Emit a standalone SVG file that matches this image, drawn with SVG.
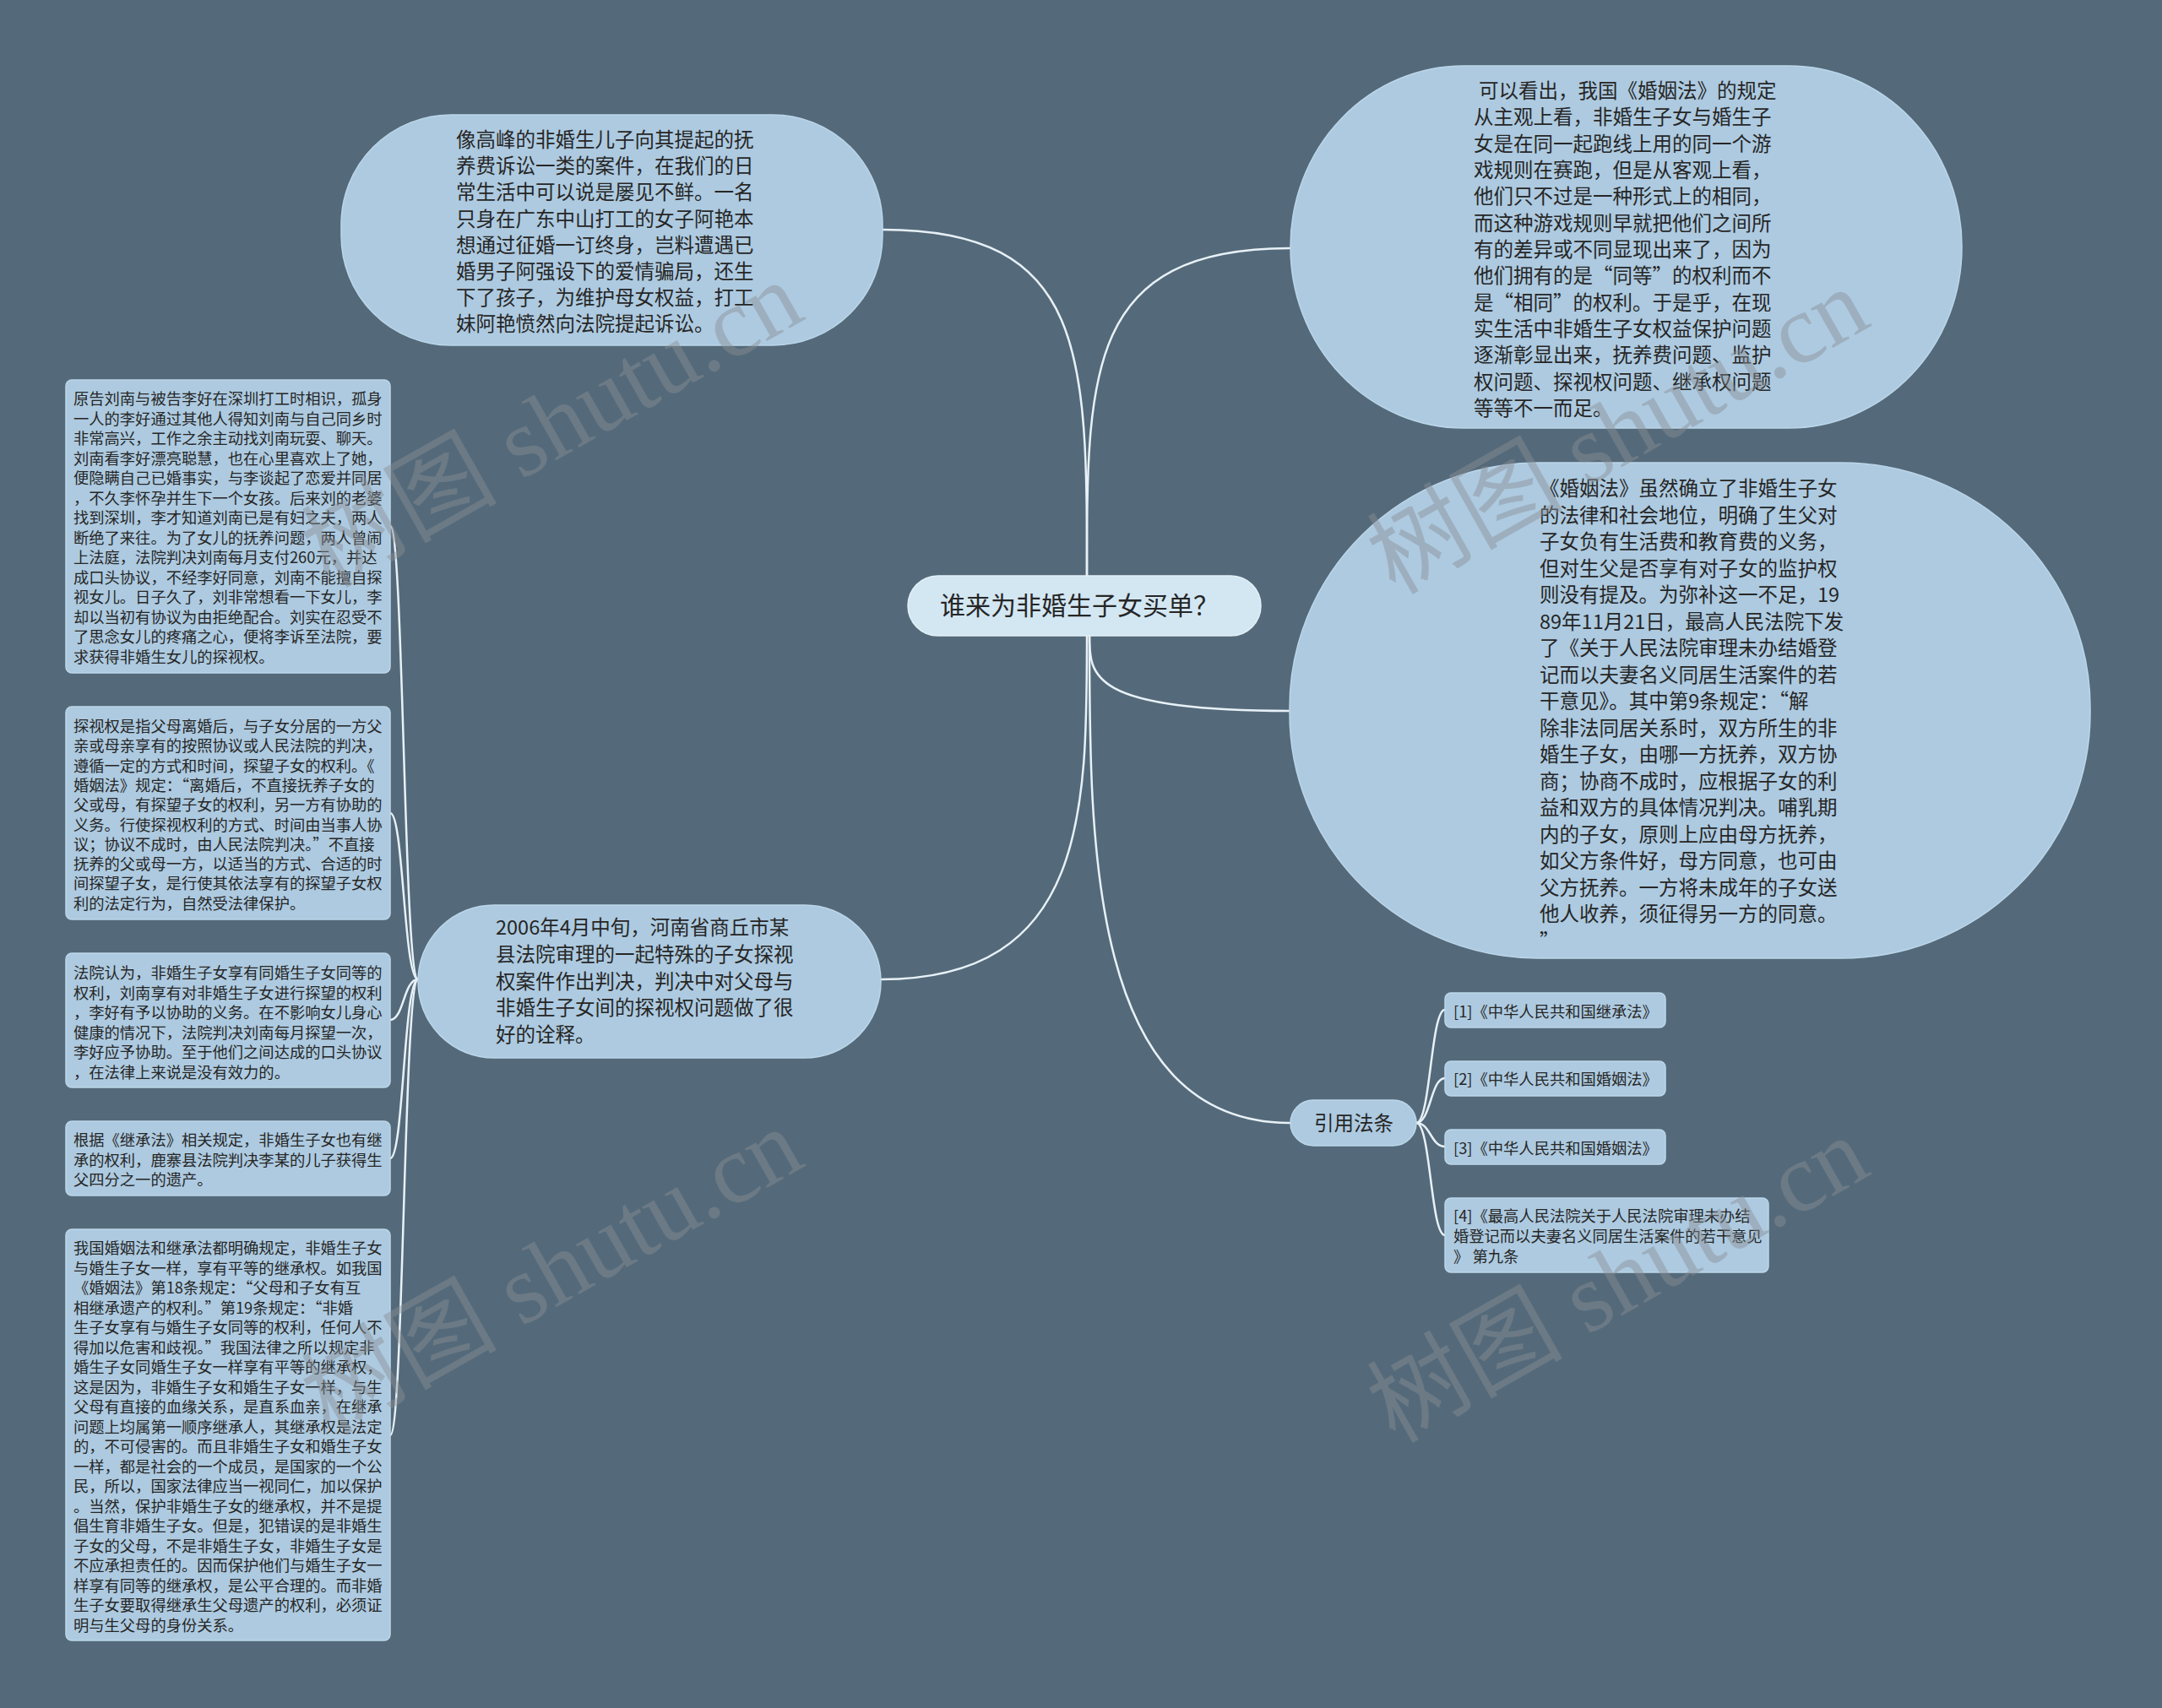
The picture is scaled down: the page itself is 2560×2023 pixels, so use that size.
<svg xmlns="http://www.w3.org/2000/svg" width="2560" height="2023" viewBox="0 0 2560 2023">
<defs>
<style>
.bg{fill:#546a7a}
.node{fill:#adcae0;stroke:#bcd6e9;stroke-width:1.5}
.center{fill:#d3e7f3;stroke:#e2eff7;stroke-width:1.5}
.conn{fill:none;stroke:#e8f1f7;stroke-width:2.5;stroke-linecap:round}
.t{font-family:"Noto Sans CJK SC","Noto Sans",sans-serif;fill:#262626}
.big{font-size:23.5px}
.small{font-size:18.3px}
.wm{font-family:"Liberation Serif","Noto Sans CJK SC",serif;font-size:116px;fill:#8a8f94;fill-opacity:0.45}
</style>
</defs>
<rect class="bg" x="0" y="0" width="2560" height="2023"/>

<g id="connectors">
<path class="conn" d="M1287,682 C1287,420 1287,272 1045,272"/>
<path class="conn" d="M1287,682 C1287,440 1287,294 1528,294"/>
<path class="conn" d="M1290,753 C1290,800 1290,842 1527,842"/>
<path class="conn" d="M1290,753 C1290,1000 1290,1330 1528,1330"/>
<path class="conn" d="M1287,753 C1287,960 1287,1160 1043,1160"/>
<path class="conn" d="M495,1160 C478,1160 478,623 462,623"/>
<path class="conn" d="M495,1160 C478,1160 478,963 462,963"/>
<path class="conn" d="M495,1160 C478,1160 478,1208 462,1208"/>
<path class="conn" d="M495,1160 C478,1160 478,1372 462,1372"/>
<path class="conn" d="M495,1160 C478,1160 478,1700 462,1700"/>
<path class="conn" d="M1677,1330 C1694,1330 1694,1196 1711,1196"/>
<path class="conn" d="M1677,1330 C1694,1330 1694,1277 1711,1277"/>
<path class="conn" d="M1677,1330 C1694,1330 1694,1358 1711,1358"/>
<path class="conn" d="M1677,1330 C1694,1330 1694,1463 1711,1463"/>
</g>

<g id="center">
<rect class="center" x="1075" y="682" width="418" height="71" rx="35.5"/>
<text class="t" x="1113" y="728" font-size="30">谁来为非婚生子女买单？</text>
</g>

<g id="node-topleft">
<rect class="node" x="404" y="136" width="641" height="273" rx="130"/>
<text class="t big">
<tspan x="540" y="174">像高峰的非婚生儿子向其提起的抚</tspan>
<tspan x="540" y="205.2">养费诉讼一类的案件，在我们的日</tspan>
<tspan x="540" y="236.4">常生活中可以说是屡见不鲜。一名</tspan>
<tspan x="540" y="267.6">只身在广东中山打工的女子阿艳本</tspan>
<tspan x="540" y="298.8">想通过征婚一订终身，岂料遭遇已</tspan>
<tspan x="540" y="330">婚男子阿强设下的爱情骗局，还生</tspan>
<tspan x="540" y="361.2">下了孩子，为维护母女权益，打工</tspan>
<tspan x="540" y="392.4">妹阿艳愤然向法院提起诉讼。</tspan>
</text>
</g>

<g id="node-midleft">
<rect class="node" x="495" y="1072" width="548" height="181" rx="90"/>
<text class="t big">
<tspan x="587" y="1107">2006年4月中旬，河南省商丘市某</tspan>
<tspan x="587" y="1138.75">县法院审理的一起特殊的子女探视</tspan>
<tspan x="587" y="1170.5">权案件作出判决，判决中对父母与</tspan>
<tspan x="587" y="1202.25">非婚生子女间的探视权问题做了很</tspan>
<tspan x="587" y="1234">好的诠释。</tspan>
</text>
</g>

<g id="leaf-1">
<rect class="node" x="78" y="450" width="384" height="347" rx="7"/>
<text class="t small">
<tspan x="87" y="479">原告刘南与被告李好在深圳打工时相识，孤身</tspan>
<tspan x="87" y="502.5">一人的李好通过其他人得知刘南与自己同乡时</tspan>
<tspan x="87" y="526">非常高兴，工作之余主动找刘南玩耍、聊天。</tspan>
<tspan x="87" y="549.5">刘南看李好漂亮聪慧，也在心里喜欢上了她，</tspan>
<tspan x="87" y="573">便隐瞒自己已婚事实，与李谈起了恋爱并同居</tspan>
<tspan x="87" y="596.5">，不久李怀孕并生下一个女孩。后来刘的老婆</tspan>
<tspan x="87" y="620">找到深圳，李才知道刘南已是有妇之夫，两人</tspan>
<tspan x="87" y="643.5">断绝了来往。为了女儿的抚养问题，两人曾闹</tspan>
<tspan x="87" y="667">上法庭，法院判决刘南每月支付260元，并达</tspan>
<tspan x="87" y="690.5">成口头协议，不经李好同意，刘南不能擅自探</tspan>
<tspan x="87" y="714">视女儿。日子久了，刘非常想看一下女儿，李</tspan>
<tspan x="87" y="737.5">却以当初有协议为由拒绝配合。刘实在忍受不</tspan>
<tspan x="87" y="761">了思念女儿的疼痛之心，便将李诉至法院，要</tspan>
<tspan x="87" y="784.5">求获得非婚生女儿的探视权。</tspan>
</text>
</g>

<g id="leaf-2">
<rect class="node" x="78" y="837" width="384" height="252" rx="7"/>
<text class="t small">
<tspan x="87" y="867">探视权是指父母离婚后，与子女分居的一方父</tspan>
<tspan x="87" y="890.3">亲或母亲享有的按照协议或人民法院的判决，</tspan>
<tspan x="87" y="913.6">遵循一定的方式和时间，探望子女的权利。《</tspan>
<tspan x="87" y="936.9">婚姻法》规定：“离婚后，不直接抚养子女的</tspan>
<tspan x="87" y="960.2">父或母，有探望子女的权利，另一方有协助的</tspan>
<tspan x="87" y="983.5">义务。行使探视权利的方式、时间由当事人协</tspan>
<tspan x="87" y="1006.8">议；协议不成时，由人民法院判决。”不直接</tspan>
<tspan x="87" y="1030.1">抚养的父或母一方，以适当的方式、合适的时</tspan>
<tspan x="87" y="1053.4">间探望子女，是行使其依法享有的探望子女权</tspan>
<tspan x="87" y="1076.7">利的法定行为，自然受法律保护。</tspan>
</text>
</g>

<g id="leaf-3">
<rect class="node" x="78" y="1129" width="384" height="159" rx="7"/>
<text class="t small">
<tspan x="87" y="1159">法院认为，非婚生子女享有同婚生子女同等的</tspan>
<tspan x="87" y="1182.5">权利，刘南享有对非婚生子女进行探望的权利</tspan>
<tspan x="87" y="1206">，李好有予以协助的义务。在不影响女儿身心</tspan>
<tspan x="87" y="1229.5">健康的情况下，法院判决刘南每月探望一次，</tspan>
<tspan x="87" y="1253">李好应予协助。至于他们之间达成的口头协议</tspan>
<tspan x="87" y="1276.5">，在法律上来说是没有效力的。</tspan>
</text>
</g>

<g id="leaf-4">
<rect class="node" x="78" y="1328" width="384" height="88" rx="7"/>
<text class="t small">
<tspan x="87" y="1357">根据《继承法》相关规定，非婚生子女也有继</tspan>
<tspan x="87" y="1380.5">承的权利，鹿寨县法院判决李某的儿子获得生</tspan>
<tspan x="87" y="1404">父四分之一的遗产。</tspan>
</text>
</g>

<g id="leaf-5">
<rect class="node" x="78" y="1456" width="384" height="487" rx="7"/>
<text class="t small">
<tspan x="87" y="1485">我国婚姻法和继承法都明确规定，非婚生子女</tspan>
<tspan x="87" y="1508.5">与婚生子女一样，享有平等的继承权。如我国</tspan>
<tspan x="87" y="1532">《婚姻法》第18条规定：“父母和子女有互</tspan>
<tspan x="87" y="1555.5">相继承遗产的权利。”第19条规定：“非婚</tspan>
<tspan x="87" y="1579">生子女享有与婚生子女同等的权利，任何人不</tspan>
<tspan x="87" y="1602.5">得加以危害和歧视。”我国法律之所以规定非</tspan>
<tspan x="87" y="1626">婚生子女同婚生子女一样享有平等的继承权，</tspan>
<tspan x="87" y="1649.5">这是因为，非婚生子女和婚生子女一样，与生</tspan>
<tspan x="87" y="1673">父母有直接的血缘关系，是直系血亲，在继承</tspan>
<tspan x="87" y="1696.5">问题上均属第一顺序继承人，其继承权是法定</tspan>
<tspan x="87" y="1720">的，不可侵害的。而且非婚生子女和婚生子女</tspan>
<tspan x="87" y="1743.5">一样，都是社会的一个成员，是国家的一个公</tspan>
<tspan x="87" y="1767">民，所以，国家法律应当一视同仁，加以保护</tspan>
<tspan x="87" y="1790.5">。当然，保护非婚生子女的继承权，并不是提</tspan>
<tspan x="87" y="1814">倡生育非婚生子女。但是，犯错误的是非婚生</tspan>
<tspan x="87" y="1837.5">子女的父母，不是非婚生子女，非婚生子女是</tspan>
<tspan x="87" y="1861">不应承担责任的。因而保护他们与婚生子女一</tspan>
<tspan x="87" y="1884.5">样享有同等的继承权，是公平合理的。而非婚</tspan>
<tspan x="87" y="1908">生子女要取得继承生父母遗产的权利，必须证</tspan>
<tspan x="87" y="1931.5">明与生父母的身份关系。</tspan>
</text>
</g>

<g id="node-topright">
<rect class="node" x="1528" y="78" width="795" height="429" rx="205" ry="214"/>
<text class="t big">
<tspan x="1751" y="116">可以看出，我国《婚姻法》的规定</tspan>
<tspan x="1745" y="147.3">从主观上看，非婚生子女与婚生子</tspan>
<tspan x="1745" y="178.7">女是在同一起跑线上用的同一个游</tspan>
<tspan x="1745" y="210">戏规则在赛跑，但是从客观上看，</tspan>
<tspan x="1745" y="241.3">他们只不过是一种形式上的相同，</tspan>
<tspan x="1745" y="272.7">而这种游戏规则早就把他们之间所</tspan>
<tspan x="1745" y="304">有的差异或不同显现出来了，因为</tspan>
<tspan x="1745" y="335.3">他们拥有的是“同等”的权利而不</tspan>
<tspan x="1745" y="366.7">是“相同”的权利。于是乎，在现</tspan>
<tspan x="1745" y="398">实生活中非婚生子女权益保护问题</tspan>
<tspan x="1745" y="429.3">逐渐彰显出来，抚养费问题、监护</tspan>
<tspan x="1745" y="460.7">权问题、探视权问题、继承权问题</tspan>
<tspan x="1745" y="492">等等不一而足。</tspan>
</text>
</g>

<g id="node-rightbig">
<rect class="node" x="1527" y="548" width="948" height="587" rx="295" ry="290"/>
<text class="t big">
<tspan x="1823" y="587">《婚姻法》虽然确立了非婚生子女</tspan>
<tspan x="1823" y="618.5">的法律和社会地位，明确了生父对</tspan>
<tspan x="1823" y="650">子女负有生活费和教育费的义务，</tspan>
<tspan x="1823" y="681.5">但对生父是否享有对子女的监护权</tspan>
<tspan x="1823" y="713">则没有提及。为弥补这一不足，19</tspan>
<tspan x="1823" y="744.5">89年11月21日，最高人民法院下发</tspan>
<tspan x="1823" y="776">了《关于人民法院审理未办结婚登</tspan>
<tspan x="1823" y="807.5">记而以夫妻名义同居生活案件的若</tspan>
<tspan x="1823" y="839">干意见》。其中第9条规定：“解</tspan>
<tspan x="1823" y="870.5">除非法同居关系时，双方所生的非</tspan>
<tspan x="1823" y="902">婚生子女，由哪一方抚养，双方协</tspan>
<tspan x="1823" y="933.5">商；协商不成时，应根据子女的利</tspan>
<tspan x="1823" y="965">益和双方的具体情况判决。哺乳期</tspan>
<tspan x="1823" y="996.5">内的子女，原则上应由母方抚养，</tspan>
<tspan x="1823" y="1028">如父方条件好，母方同意，也可由</tspan>
<tspan x="1823" y="1059.5">父方抚养。一方将未成年的子女送</tspan>
<tspan x="1823" y="1091">他人收养，须征得另一方的同意。</tspan>
<tspan x="1823" y="1122.5">”</tspan>
</text>
</g>

<g id="node-cite">
<rect class="node" x="1528" y="1303" width="149" height="54" rx="27"/>
<text class="t big" x="1556" y="1339">引用法条</text>
</g>

<g id="cite-1">
<rect class="node" x="1711" y="1176" width="261" height="41" rx="7"/>
<text class="t small" x="1721" y="1205">[1]《中华人民共和国继承法》</text>
</g>
<g id="cite-2">
<rect class="node" x="1711" y="1257" width="261" height="41" rx="7"/>
<text class="t small" x="1721" y="1285">[2]《中华人民共和国婚姻法》</text>
</g>
<g id="cite-3">
<rect class="node" x="1711" y="1338" width="261" height="41" rx="7"/>
<text class="t small" x="1721" y="1367">[3]《中华人民共和国婚姻法》</text>
</g>
<g id="cite-4">
<rect class="node" x="1711" y="1419" width="383" height="88" rx="7"/>
<text class="t small">
<tspan x="1721" y="1447">[4]《最高人民法院关于人民法院审理未办结</tspan>
<tspan x="1721" y="1471">婚登记而以夫妻名义同居生活案件的若干意见</tspan>
<tspan x="1721" y="1495">》 第九条</tspan>
</text>
</g>

<g id="watermarks">
<text class="wm" x="673" y="537" text-anchor="middle" transform="rotate(-29.5 673 537)">树图 shutu.cn</text>
<text class="wm" x="1935" y="545" text-anchor="middle" transform="rotate(-29.5 1935 545)">树图 shutu.cn</text>
<text class="wm" x="673" y="1540" text-anchor="middle" transform="rotate(-29.5 673 1540)">树图 shutu.cn</text>
<text class="wm" x="1935" y="1550" text-anchor="middle" transform="rotate(-29.5 1935 1550)">树图 shutu.cn</text>
</g>
</svg>
